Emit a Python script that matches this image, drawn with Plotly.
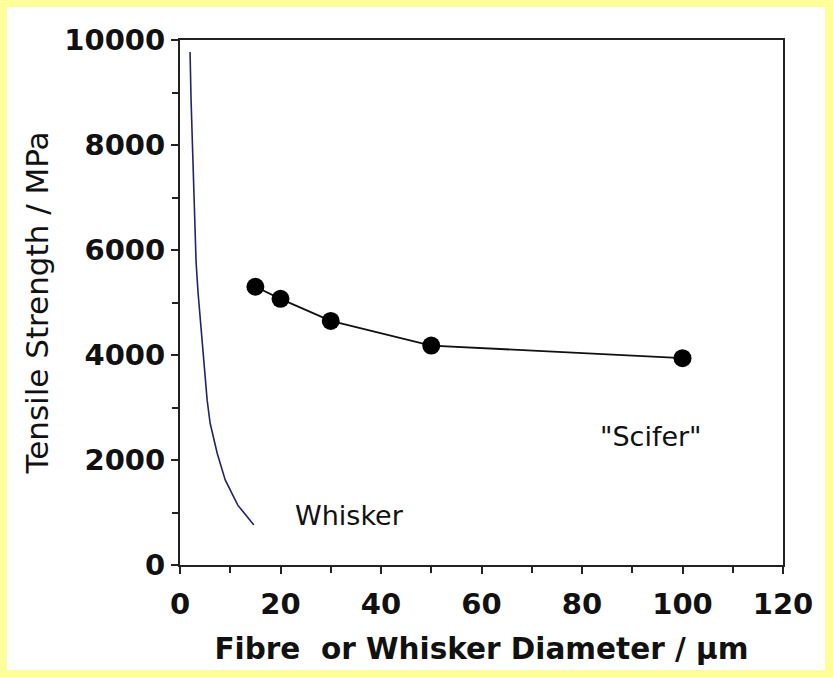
import plotly.graph_objects as go

# Data
whisker_d = [2.0, 2.2, 2.8, 3.2, 3.6, 4.1, 4.6, 5.0, 5.4, 6.0, 7.4, 9.0, 11.5, 14.7]
whisker_s = [9770, 8860, 7010, 5770, 5180, 4610, 4060, 3660, 3140, 2700, 2130, 1620, 1140, 760]

scifer_d = [15, 20, 30, 50, 100]
scifer_s = [5300, 5070, 4650, 4180, 3940]

x_ticks = [0, 20, 40, 60, 80, 100, 120]
y_ticks = [0, 2000, 4000, 6000, 8000, 10000]

W, H = 833, 677
L, R, T, B = 180, 50, 40, 112
pw, ph = W - L - R, H - T - B

fig = go.Figure()
fig.add_trace(go.Scatter(x=whisker_d, y=whisker_s, mode="lines",
                         line=dict(color="#23236b", width=1.6), showlegend=False))
fig.add_trace(go.Scatter(x=scifer_d, y=scifer_s, mode="lines+markers",
                         line=dict(color="#111111", width=1.8),
                         marker=dict(color="#000000", size=18), showlegend=False))

fig.add_annotation(x=33.8, y=950, text="Whisker", showarrow=False,
                   font=dict(family="DejaVu Sans", size=27, color="#111111"))
fig.add_annotation(x=93.7, y=2440, text="\"Scifer\"", showarrow=False,
                   font=dict(family="DejaVu Sans", size=27, color="#111111"))

# white inner panel on yellow border
fig.add_shape(type="rect", xref="paper", yref="paper", layer="below",
              x0=(7 - L) / pw, x1=(825 - L) / pw,
              y0=(H - B - 670) / ph, y1=(H - B - 7) / ph,
              fillcolor="white", line=dict(width=0))

axis_common = dict(showline=True, linecolor="#222222", linewidth=2, mirror=True,
                   ticks="outside", ticklen=7, tickwidth=2, tickcolor="#222222",
                   showgrid=False, zeroline=False,
                   tickfont=dict(family="DejaVu Sans", size=29, color="#111111", weight="bold"))

fig.update_xaxes(range=[0, 120], tickvals=x_ticks, ticktext=[str(v) for v in x_ticks],
                 ticklabelstandoff=5,
                 minor=dict(ticks="outside", dtick=10, ticklen=6, tickwidth=2, tickcolor="#222222"),
                 title=dict(text="Fibre  or Whisker Diameter / µm", standoff=19,
                            font=dict(family="DejaVu Sans", size=29.5, color="#111111", weight="bold")),
                 automargin=False, **axis_common)
fig.update_yaxes(range=[0, 10000], tickvals=y_ticks, ticktext=[str(v) for v in y_ticks],
                 minor=dict(ticks="outside", dtick=1000, ticklen=6, tickwidth=2, tickcolor="#222222"),
                 title=dict(text="Tensile Strength / MPa", standoff=6,
                            font=dict(family="DejaVu Sans", size=31, color="#111111")),
                 automargin=False, **axis_common)

fig.update_layout(width=W, height=H, margin=dict(l=L, r=R, t=T, b=B),
                  paper_bgcolor="#ffff99", plot_bgcolor="white")

fig.write_html("out.html")
